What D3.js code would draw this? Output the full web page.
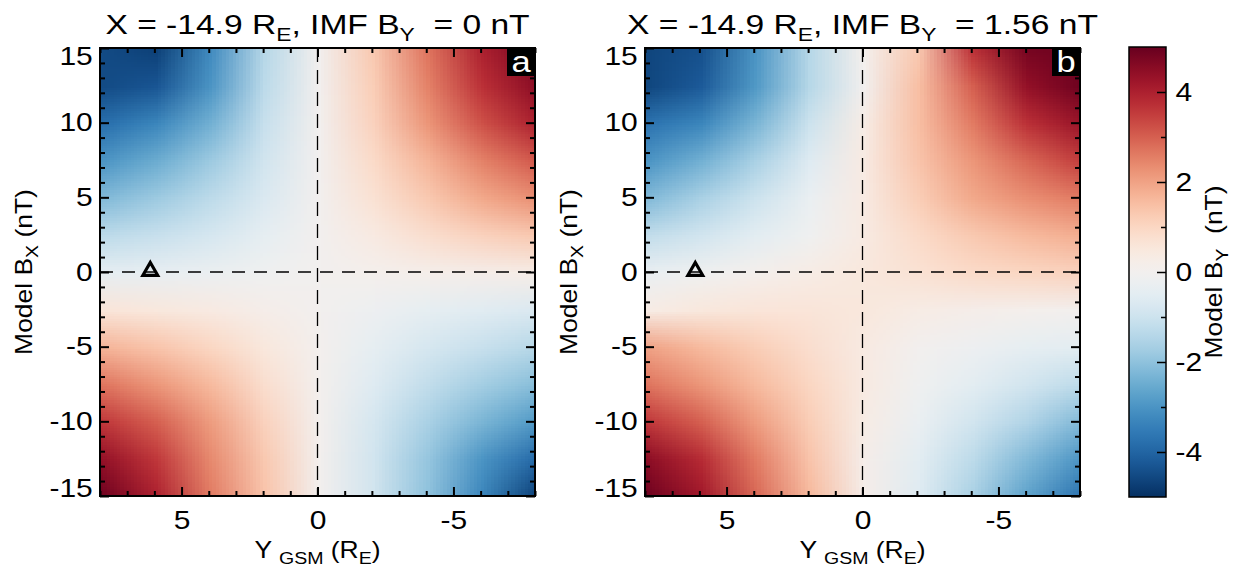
<!DOCTYPE html>
<html>
<head>
<meta charset="utf-8">
<script src="https://cdn.jsdelivr.net/npm/d3@7"></script>
<style>
  body { margin: 0; background: #fff; }
  svg { display: block; font-family: "Liberation Sans", Arial, Helvetica, sans-serif; }
</style>
</head>
<body>
<svg id="chart" width="1238" height="571"></svg>
<script>
// grid of model By (nT)
// columns: Y_GSM (R_E), rows: model Bx (nT)
const yGsm = [8, 6, 4, 2, 0, -2, -4, -6, -8];
const bxModel = [15, 12.5, 10, 7.5, 5, 2.5, 0, -2.5, -5, -7.5, -10, -12.5, -15];

// panel a, IMF By = 0
const byPanelA = [
  [-4.5, -4.7, -3.2, -1.4, 0.0, 1.3, 2.7, 4.0, 4.8],
  [-4.5, -4.3, -3.0, -1.3, 0.0, 1.2, 2.5, 3.7, 4.5],
  [-3.8, -3.3, -2.4, -1.1, 0.0, 1.1, 2.2, 3.2, 4.0],
  [-3.0, -2.5, -1.8, -0.9, 0.0, 0.9, 1.7, 2.5, 3.1],
  [-2.2, -1.8, -1.3, -0.7, 0.0, 0.7, 1.3, 1.9, 2.3],
  [-1.3, -1.1, -0.8, -0.4, 0.0, 0.4, 0.8, 1.1, 1.3],
  [-0.4, -0.35, -0.25, -0.1, 0.0, 0.1, 0.15, 0.2, 0.25],
  [0.6, 0.5, 0.4, 0.2, 0.0, -0.2, -0.4, -0.55, -0.7],
  [1.7, 1.4, 1.0, 0.5, 0.05, -0.4, -0.8, -1.1, -1.4],
  [2.7, 2.2, 1.6, 0.8, 0.05, -0.6, -1.2, -1.7, -2.1],
  [3.6, 3.0, 2.1, 1.1, 0.05, -0.8, -1.6, -2.3, -2.9],
  [4.4, 3.6, 2.4, 1.3, 0.05, -0.9, -1.9, -3.0, -3.9],
  [4.9, 4.0, 2.6, 1.4, 0.0, -0.9, -2.0, -3.3, -4.7]
];

// panel b, IMF By = 1.56
const byPanelB = [
  [-4.6, -4.4, -3.0, -1.4, 0.1, 1.3, 3.7, 4.8, 4.9],
  [-4.6, -4.2, -2.9, -1.4, 0.0, 1.5, 3.0, 4.4, 4.9],
  [-3.7, -3.3, -2.3, -1.0, 0.3, 1.5, 2.6, 3.7, 4.3],
  [-3.0, -2.4, -1.6, -0.6, 0.4, 1.4, 2.2, 2.9, 3.5],
  [-2.2, -1.6, -1.0, -0.3, 0.4, 1.2, 1.9, 2.3, 2.6],
  [-1.2, -0.9, -0.5, -0.1, 0.4, 0.9, 1.3, 1.6, 1.8],
  [-0.3, -0.1, 0.1, 0.3, 0.5, 0.7, 0.9, 1.0, 1.1],
  [0.3, 0.5, 0.6, 0.6, 0.5, 0.3, 0.2, 0.1, 0.0],
  [2.0, 1.6, 1.2, 0.8, 0.4, 0.0, -0.2, -0.4, -0.5],
  [2.7, 2.2, 1.6, 1.0, 0.4, -0.1, -0.5, -0.9, -1.3],
  [3.6, 3.0, 2.1, 1.2, 0.3, -0.3, -0.9, -1.5, -2.2],
  [4.5, 3.8, 2.6, 1.4, 0.2, -0.5, -1.3, -2.2, -3.0],
  [4.9, 4.2, 2.9, 1.6, 0.2, -0.6, -1.6, -2.7, -3.7]
];

const imfBy = ["0", "1.56"];
const panelLetters = ["a", "b"];
const marker = { y: 6.15, bx: 0 };

const xTickValues = [5, 0, -5];
const yTickValues = [-15, -10, -5, 0, 5, 10, 15];
const cbTickValues = [-4, -2, 0, 2, 4];

////// layout //////
const TOP = 48, BOTTOM = 496;
const panels = [
  { left: 100, right: 535, data: byPanelA },
  { left: 645, right: 1080, data: byPanelB }
];
const CB = { left: 1129, right: 1166, top: 47, bottom: 497 };
const STRETCH = 1.2;      // lettering in the figure is wider than Liberation Sans
const TICK_FONT = 25;

const svg = d3.select("#chart");

// RdBu, red for positive
const color = d3.scaleSequential(t => d3.interpolateRdBu(1 - t)).domain([-5, 5]).clamp(true);

const fmt = d => String(d);

function gridImage(values) {
  var canvas = document.createElement("canvas");
  canvas.width = yGsm.length;
  canvas.height = bxModel.length;
  var ctx = canvas.getContext("2d");
  var img = ctx.createImageData(canvas.width, canvas.height);
  values.forEach(function(row, j) {
    row.forEach(function(v, i) {
      var c = d3.rgb(color(v));
      var k = (j * canvas.width + i) * 4;
      img.data[k] = c.r; img.data[k + 1] = c.g; img.data[k + 2] = c.b; img.data[k + 3] = 255;
    });
  });
  ctx.putImageData(img, 0, 0);
  return canvas.toDataURL();
}

// text with sub-scripts, parts = [[string, isSub], ...]
function label(parent, tx, ty, rot, size, subSize, sx, parts) {
  var t = parent.append("g")
    .attr("transform", "translate(" + tx + "," + ty + ") rotate(" + rot + ") scale(" + sx + ",1)")
    .append("text")
    .attr("text-anchor", "middle").attr("font-size", size)
    .style("white-space", "pre");
  var low = false;
  parts.forEach(function(p) {
    var s = t.append("tspan").text(p[0]);
    if (p[1] && !low) { s.attr("dy", size * 0.24).attr("font-size", subSize); low = true; }
    else if (!p[1] && low) { s.attr("dy", -size * 0.24); low = false; }
  });
  return t;
}

var defs = svg.append("defs");

panels.forEach(function(p, idx) {
  var x = d3.scaleLinear().domain([8, -8]).range([p.left, p.right]);
  var y = d3.scaleLinear().domain([-15, 15]).range([BOTTOM, TOP]);
  var g = svg.append("g");

  defs.append("clipPath").attr("id", "clip" + idx)
    .append("rect")
    .attr("x", p.left).attr("y", TOP)
    .attr("width", p.right - p.left).attr("height", BOTTOM - TOP);

  // each grid value sits at a pixel centre, half a cell spills past the frame
  var dy = (yGsm[0] - yGsm[1]) / 2, dbx = (bxModel[0] - bxModel[1]) / 2;
  g.append("image")
    .attr("clip-path", "url(#clip" + idx + ")")
    .attr("href", gridImage(p.data))
    .attr("preserveAspectRatio", "none")
    .attr("x", x(yGsm[0] + dy))
    .attr("width", x(yGsm[yGsm.length - 1] - dy) - x(yGsm[0] + dy))
    .attr("y", y(bxModel[0] + dbx))
    .attr("height", y(bxModel[bxModel.length - 1] - dbx) - y(bxModel[0] + dbx));

  // dashed zero lines
  g.append("line")
    .attr("x1", x(0)).attr("x2", x(0)).attr("y1", TOP).attr("y2", BOTTOM)
    .attr("stroke", "#000").attr("stroke-width", 1.3).attr("stroke-dasharray", "14,8");
  g.append("line")
    .attr("x1", p.left).attr("x2", p.right).attr("y1", y(0)).attr("y2", y(0))
    .attr("stroke", "#000").attr("stroke-width", 1.3).attr("stroke-dasharray", "13,9");

  // marker
  g.append("path")
    .attr("d", d3.symbol(d3.symbolTriangle, 95)())
    .attr("transform", "translate(" + x(marker.y) + "," + (y(marker.bx) - 1) + ")")
    .attr("fill", "none").attr("stroke", "#000").attr("stroke-width", 3.2);

  // axes, ticks pointing in
  var minorX = d3.range(-8, 9).filter(d => xTickValues.indexOf(d) < 0);
  var minorY = d3.range(-15, 16).filter(d => yTickValues.indexOf(d) < 0);

  function axis(gen, scale, vals, size, pos, labels) {
    var a = g.append("g").attr("transform", pos)
      .call(gen(scale).tickValues(vals).tickSize(-size).tickPadding(8)
        .tickFormat(labels ? fmt : ""));
    a.select(".domain").remove();
    a.selectAll("line").attr("stroke-width", 2);
    a.selectAll("text").attr("font-size", TICK_FONT).attr("fill", "#000")
      .attr("font-family", "Liberation Sans, Arial, sans-serif")
      .attr("transform", "scale(" + STRETCH + ",1)");
    return a;
  }

  axis(d3.axisBottom, x, xTickValues, 9, "translate(0," + BOTTOM + ")", true)
    .selectAll("text").attr("dy", "1.02em");
  axis(d3.axisBottom, x, minorX, 5, "translate(0," + BOTTOM + ")", false);
  axis(d3.axisTop, x, xTickValues, 9, "translate(0," + TOP + ")", false);
  axis(d3.axisTop, x, minorX, 5, "translate(0," + TOP + ")", false);
  axis(d3.axisLeft, y, yTickValues, 9, "translate(" + p.left + ",0)", true)
    .selectAll("text")
    .attr("x", -6)
    .attr("y", d => d === 15 ? 8 : d === -15 ? -8 : 0);
  axis(d3.axisLeft, y, minorY, 5, "translate(" + p.left + ",0)", false);
  axis(d3.axisRight, y, yTickValues, 9, "translate(" + p.right + ",0)", false);
  axis(d3.axisRight, y, minorY, 5, "translate(" + p.right + ",0)", false);

  // frame
  g.append("rect")
    .attr("x", p.left).attr("y", TOP)
    .attr("width", p.right - p.left).attr("height", BOTTOM - TOP)
    .attr("fill", "none").attr("stroke", "#000").attr("stroke-width", 2);

  // panel letter
  g.append("rect")
    .attr("x", p.right - 28).attr("y", TOP)
    .attr("width", 28).attr("height", 28).attr("fill", "#000");
  label(g, p.right - 14, TOP + 24, 0, 30, 30, 1.15, [[panelLetters[idx], false]])
    .attr("fill", "#fff");

  // titles
  var cx = (p.left + p.right) / 2;
  label(g, cx, 34, 0, 28, 19, STRETCH,
    [["X = -14.9 R", false], ["E", true], [", IMF B", false], ["Y", true], ["  = " + imfBy[idx] + " nT", false]]);
  label(g, cx, 558, 0, 23, 17, 1.15,
    [["Y ", false], ["GSM", true], [" (R", false], ["E", true], [")", false]]);
  label(g, p.left - 68, (TOP + BOTTOM) / 2, -90, 23, 17, 1.15,
    [["Model B", false], ["X", true], [" (nT)", false]]);
});

////// colour bar //////
var cbScale = d3.scaleLinear().domain([-5, 5]).range([CB.bottom, CB.top]);
var grad = defs.append("linearGradient").attr("id", "cbgrad")
  .attr("x1", 0).attr("x2", 0).attr("y1", 1).attr("y2", 0);
grad.selectAll("stop")
  .data(d3.range(-5, 5.001, 0.25))
  .enter().append("stop")
  .attr("offset", d => (d + 5) / 10)
  .attr("stop-color", d => color(d));

var cb = svg.append("g");
cb.append("rect")
  .attr("x", CB.left).attr("y", CB.top)
  .attr("width", CB.right - CB.left).attr("height", CB.bottom - CB.top)
  .attr("fill", "url(#cbgrad)");

var cbAxis = cb.append("g").attr("transform", "translate(" + CB.right + ",0)")
  .call(d3.axisRight(cbScale).tickValues(cbTickValues).tickSize(-9).tickPadding(8).tickFormat(fmt));
cbAxis.select(".domain").remove();
cbAxis.selectAll("line").attr("stroke-width", 1.5);
cbAxis.selectAll("text").attr("font-size", TICK_FONT).attr("fill", "#000")
  .attr("font-family", "Liberation Sans, Arial, sans-serif")
  .attr("transform", "scale(" + STRETCH + ",1)");
var cbMinor = cb.append("g").attr("transform", "translate(" + CB.right + ",0)")
  .call(d3.axisRight(cbScale).tickValues([-3, -1, 1, 3]).tickSize(-5).tickFormat(""));
cbMinor.select(".domain").remove();
cbMinor.selectAll("line").attr("stroke-width", 1.5);

cb.append("rect")
  .attr("x", CB.left).attr("y", CB.top)
  .attr("width", CB.right - CB.left).attr("height", CB.bottom - CB.top)
  .attr("fill", "none").attr("stroke", "#000").attr("stroke-width", 1.5);

label(cb, 1222, (CB.top + CB.bottom) / 2, -90, 23, 17, 1.15,
  [["Model B", false], ["Y", true], ["  (nT)", false]]);
</script>
</body>
</html>
